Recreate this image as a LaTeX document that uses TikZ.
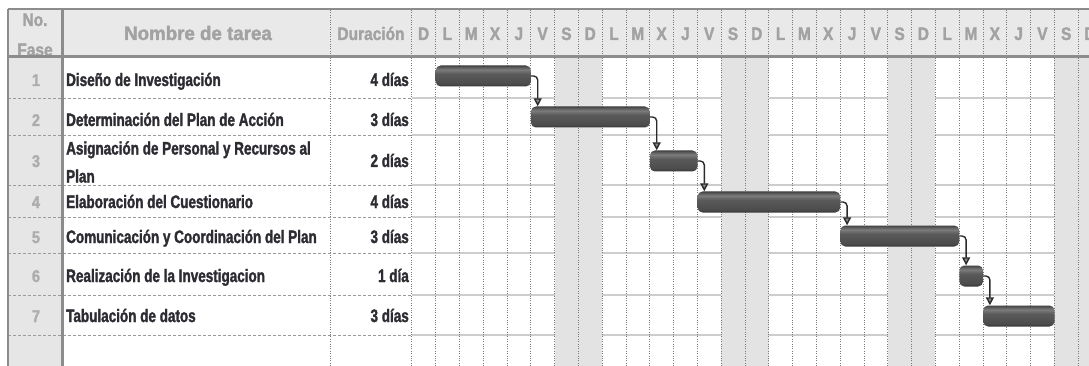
\documentclass[tikz,border=0pt]{standalone}
\usepackage{fontspec}
\setmainfont{Liberation Sans}
\newfontfamily\bodyfam[FakeStretch=0.75,FakeBold=1.6]{Liberation Sans Bold}
\newfontfamily\headfam[FakeStretch=0.86,FakeBold=1.6]{Liberation Sans Bold}
\newfontfamily\headwide[FakeStretch=0.96,FakeBold=1.6]{Liberation Sans Bold}
\usetikzlibrary{arrows.meta}

\definecolor{hdrfill}{HTML}{E9E9E9}
\definecolor{sidefill}{HTML}{E6E6E6}
\definecolor{wkfill}{HTML}{E3E3E3}
\definecolor{rowline}{HTML}{CDCDCD}
\definecolor{rowdash}{HTML}{9A9A9A}
\definecolor{vdot}{HTML}{7A7A7A}
\definecolor{hdrtext}{HTML}{A2A2A2}
\definecolor{bodytext}{HTML}{2C2C32}
\definecolor{numtext}{HTML}{ADADAD}
\definecolor{frame}{HTML}{8C8C8C}
\definecolor{connline}{HTML}{2A2A2A}
\definecolor{tipfill}{HTML}{8A8A8A}

\definecolor{barA}{HTML}{363636}
\definecolor{barB}{HTML}{4C4C4C}
\definecolor{barC}{HTML}{5A5A5A}
\definecolor{barD}{HTML}{7C7C7C}
\definecolor{barE}{HTML}{5C5C5C}
\definecolor{barF}{HTML}{404040}
\pgfdeclareverticalshading{barshade}{100bp}{%
  color(0bp)=(barA); color(25bp)=(barA); color(32bp)=(barB);
  color(55bp)=(barC); color(65bp)=(barD); color(71bp)=(barE);
  color(75bp)=(barF); color(100bp)=(barF)}

\tikzset{
  hdr/.style={text=hdrtext, inner sep=0pt, anchor=base,
    font=\headfam\fontsize{18}{20}\selectfont},
  hdrwide/.style={hdr, font=\headwide\fontsize{19.5}{22}\selectfont},
  task/.style={text=bodytext, inner sep=0pt, anchor=base west,
    font=\bodyfam\fontsize{18}{28}\selectfont},
  dur/.style={text=bodytext, inner sep=0pt, anchor=base east,
    font=\bodyfam\fontsize{18}{20}\selectfont},
  num/.style={text=numtext, inner sep=0pt, anchor=base,
    font=\headfam\fontsize{17}{20}\selectfont},
  bar/.style={shading=barshade, rounded corners=5pt, inner sep=0pt,
    minimum height=21pt, anchor=west},
  conn/.style={draw=connline, line width=1.4pt, rounded corners=4pt,
    -{Triangle[length=8pt,width=8pt,fill=tipfill]}},
  rowsolid/.style={draw=rowline, line width=1.6pt},
  rowdashed/.style={draw=rowdash, line width=0.9pt, dash pattern=on 3pt off 2pt},
  coldot/.style={draw=vdot, line width=0.8pt, dash pattern=on 1pt off 1.4pt},
}

\begin{document}
\begin{tikzpicture}[x=1pt, y=-1pt]
\useasboundingbox (0,0) rectangle (1089,366);
\clip (0,0) rectangle (1089,366);

% backgrounds
\fill[white] (0,0) rectangle (1089,366);
\fill[hdrfill] (8,10) rectangle (1089,57);
\fill[sidefill] (8,57) rectangle (62,366);

% row separators: dashed in the table, solid in the calendar
\foreach \yy in {98,135,185,217,253,295,335} {
  \draw[rowdashed] (8,\yy) -- (411.7,\yy);
  \draw[rowsolid] (411.7,\yy) -- (1089,\yy);
}

% weekend columns (S, D)
\foreach \c in {6,7,13,14,20,21,27,28}
  \fill[wkfill] ({411.7+23.8*\c},58) rectangle ++(23.8,308);

% dotted column separators
\draw[coldot] (330,10) -- (330,366);
\foreach \k in {0,...,28}
  \draw[coldot] ({411.7+23.8*\k},10) -- ++(0,356);

% header labels
\node[hdr] (hno) at (35,26) {No.};
\node[hdr] (hfase) at (35,56) {Fase};
\node[hdrwide] (hname) at (198,40) {Nombre de tarea};
\node[hdr] (hdur) at (371,40) {Duración};
\foreach \l [count=\i from 0] in {D,L,M,X,J,V,S,D,L,M,X,J,V,S,D,L,M,X,J,V,S,D,L,M,X,J,V,S,D}
  \node[hdr] (day\i) at ({411.7+23.8*\i+11.9},40) {\l};

% frame lines
\draw[frame, line width=2pt] (8,9) -- (1089,9);
\draw[frame, line width=3pt] (8,57) -- (1089,57);
\draw[frame, line width=1.5pt] (8,9) -- (8,366);
\draw[frame, line width=3pt] (62,9) -- (62,366);

% phase numbers
\node[num] (n1) at (36,86) {1};
\node[num] (n2) at (36,126) {2};
\node[num] (n3) at (36,167) {3};
\node[num] (n4) at (36,208) {4};
\node[num] (n5) at (36,243) {5};
\node[num] (n6) at (36,282) {6};
\node[num] (n7) at (36,322) {7};

% task names
\node[task] (t1) at (66,86) {Diseño de Investigación};
\node[task] (t2) at (66,126) {Determinación del Plan de Acción};
\node[task, align=left, anchor=west] (t3) at (66,162) {Asignación de Personal y Recursos al\\Plan};
\node[task] (t4) at (66,208) {Elaboración del Cuestionario};
\node[task] (t5) at (66,243) {Comunicación y Coordinación del Plan};
\node[task] (t6) at (66,282) {Realización de la Investigacion};
\node[task] (t7) at (66,322) {Tabulación de datos};

% durations
\node[dur] (u1) at (409,86) {4 días};
\node[dur] (u2) at (409,126) {3 días};
\node[dur] (u3) at (409,167) {2 días};
\node[dur] (u4) at (409,208) {4 días};
\node[dur] (u5) at (409,243) {3 días};
\node[dur] (u6) at (409,282) {1 día};
\node[dur] (u7) at (409,322) {3 días};

% task bars
\node[bar, minimum width=95.2pt]  (b1) at (435.5,76) {};
\node[bar, minimum width=119pt]   (b2) at (530.7,117) {};
\node[bar, minimum width=47.6pt]  (b3) at (649.7,161) {};
\node[bar, minimum width=142.8pt] (b4) at (697.3,202) {};
\node[bar, minimum width=119pt]   (b5) at (840.1,236) {};
\node[bar, minimum width=23.8pt]  (b6) at (959.1,276) {};
\node[bar, minimum width=71.4pt]  (b7) at (982.9,316) {};

% finish-to-start links
\draw[conn] (b1.east) -| ([xshift=7pt]b2.north west);
\draw[conn] (b2.east) -| ([xshift=7pt]b3.north west);
\draw[conn] (b3.east) -| ([xshift=7pt]b4.north west);
\draw[conn] (b4.east) -| ([xshift=7pt]b5.north west);
\draw[conn] (b5.east) -| ([xshift=7pt]b6.north west);
\draw[conn] (b6.east) -| ([xshift=7pt]b7.north west);
\end{tikzpicture}
\end{document}
